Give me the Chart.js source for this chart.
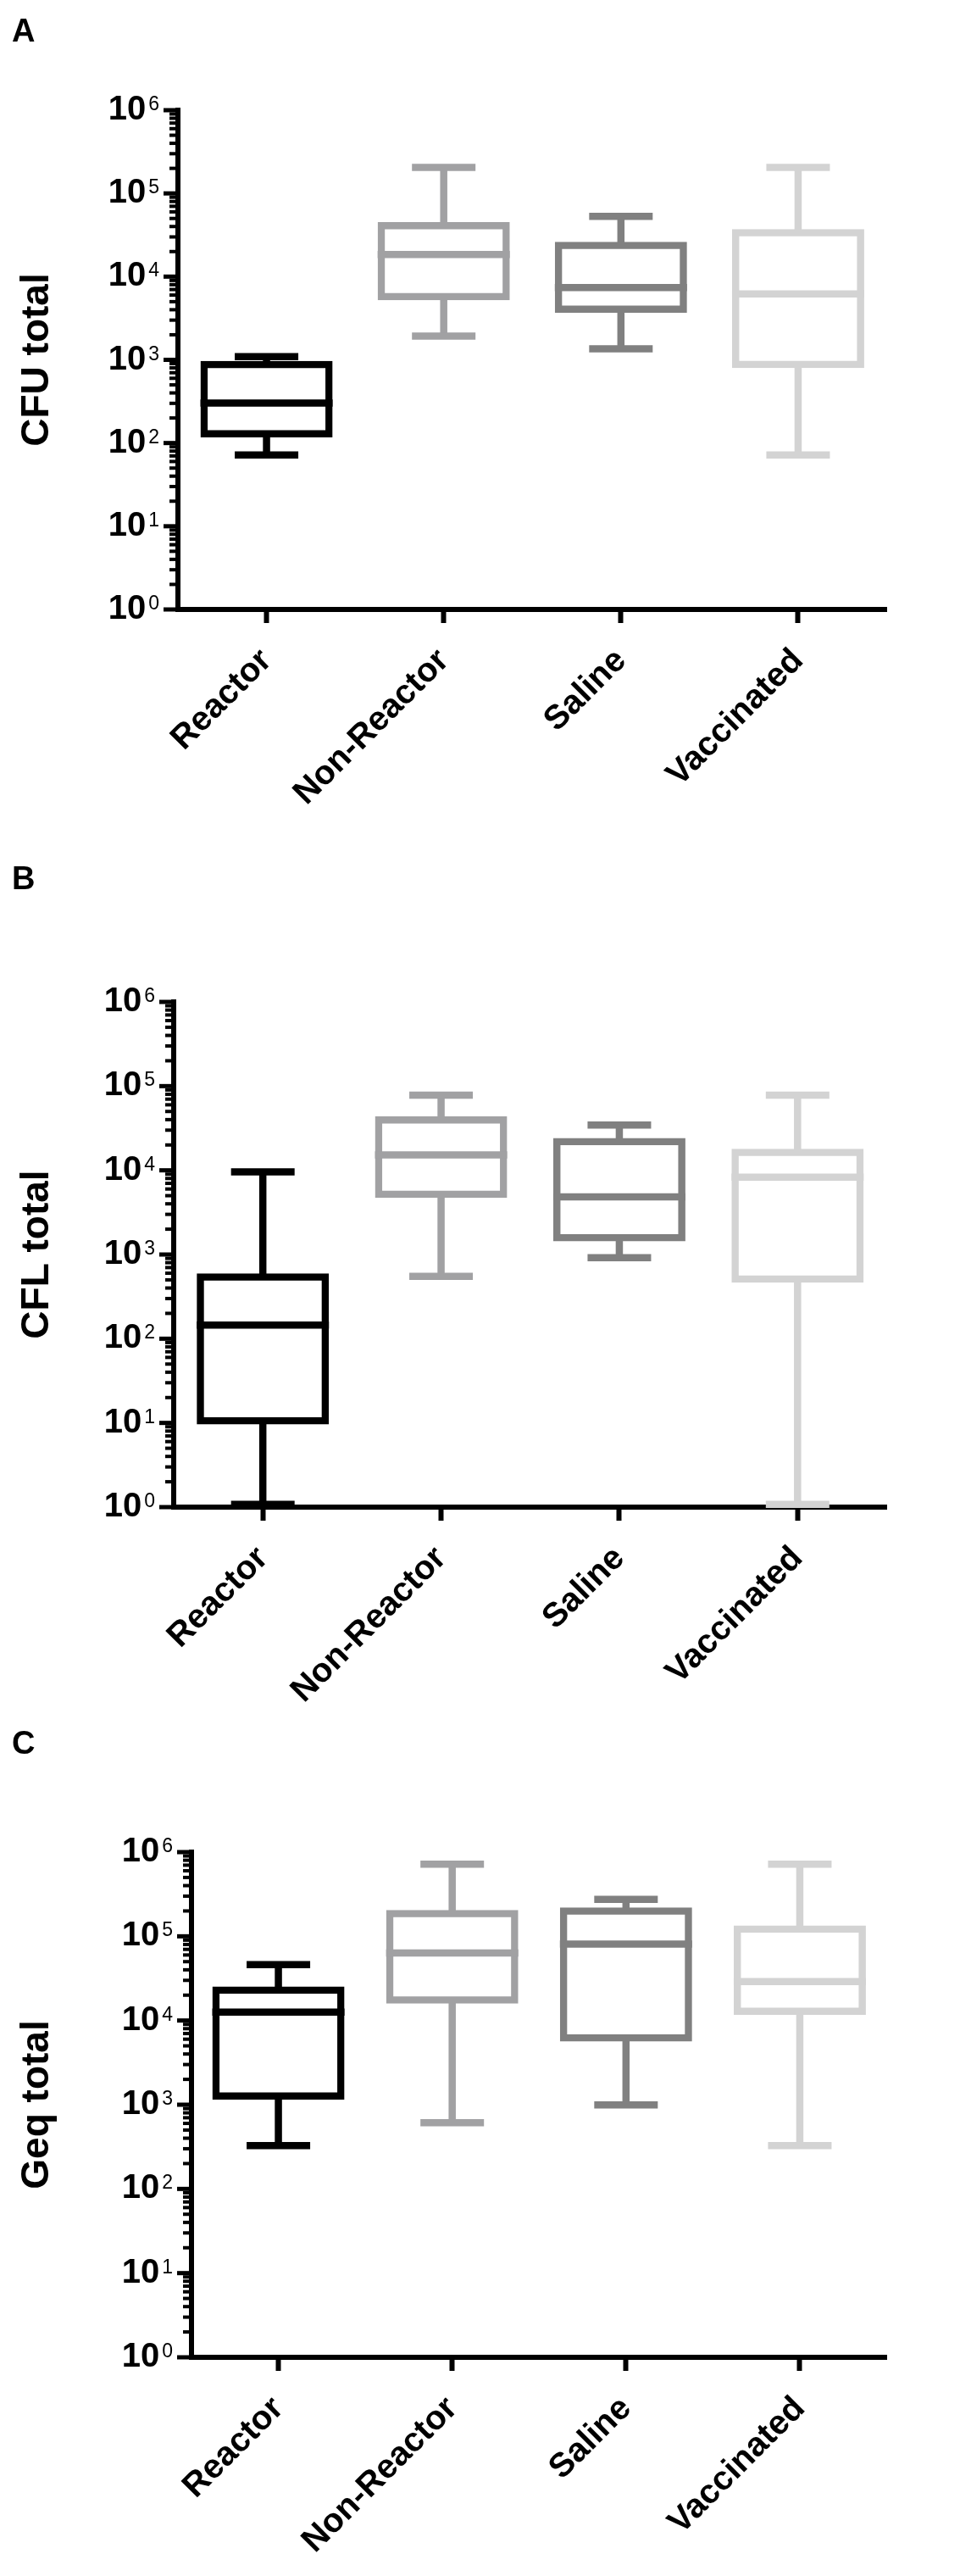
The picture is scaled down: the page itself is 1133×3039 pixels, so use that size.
<!DOCTYPE html>
<html>
<head>
<meta charset="utf-8">
<script src="https://cdn.jsdelivr.net/npm/chart.js@4.4.1/dist/chart.umd.min.js"></script>
<style>
    body { margin: 0; background: #fff; width: 1133px; height: 3039px; position: relative; overflow: hidden; }
    canvas { position: absolute; left: 0; }
    .letra { position: absolute; left: 14px; font-family: 'Liberation Sans', Arial, sans-serif; font-weight: bold; font-size: 38px; line-height: 1; color: #000; }
</style>
</head>
<body>
<canvas id="chartA" width="1133" height="1013" style="top:0px"></canvas>
<canvas id="chartB" width="1133" height="1013" style="top:1013px"></canvas>
<canvas id="chartC" width="1133" height="1013" style="top:2026px"></canvas>
<div class="letra" style="top:17px">A</div>
<div class="letra" style="top:1017px">B</div>
<div class="letra" style="top:2037px">C</div>
<script>
const FONTE = "'Liberation Sans', Arial, sans-serif";

// Grupos e cores
const groups = ['Reactor', 'Non-Reactor', 'Saline', 'Vaccinated'];
const groupColors = ['#000000', '#a1a1a3', '#808080', '#d3d3d3'];

// Eixo y (log)
const yTickExponents = [0, 1, 2, 3, 4, 5, 6];
const minorTickMultipliers = [2, 3, 4, 5, 6, 7, 8, 9];

// A - CFU total
const cfuMin = [72, 1930, 1360, 72];
const cfuQ1 = [129, 5750, 4070, 880];
const cfuMedian = [302, 18400, 7400, 6200];
const cfuQ3 = [880, 41000, 23700, 33700];
const cfuMax = [1090, 205000, 53000, 205000];

// B - CFL total
const cflMin = [1.08, 552, 916, 1.08];
const cflQ1 = [10.6, 5200, 1580, 510];
const cflMedian = [145, 15200, 4850, 8300];
const cflQ3 = [541, 39600, 22000, 16300];
const cflMax = [9600, 78000, 34500, 78000];

// C - Geq total
const geqMin = [327, 611, 995, 327];
const geqQ1 = [1270, 17500, 6200, 12900];
const geqMedian = [12600, 63500, 81000, 29000];
const geqQ3 = [23000, 186000, 200000, 122000];
const geqMax = [46000, 720000, 275000, 720000];

const LINE = 8.5;     // espessura das linhas do box
const BOX = 156;      // largura externa do box
const CAP = 75;       // largura das barrinhas dos whiskers
const AXIS_W = 6;

const panels = [
    { id: 'chartA', title: 'CFU total', min: cfuMin, q1: cfuQ1, median: cfuMedian, q3: cfuQ3, max: cfuMax,
      area: { left: 210, right: 1100, top: 130, bottom: 719 } },
    { id: 'chartB', title: 'CFL total', min: cflMin, q1: cflQ1, median: cflMedian, q3: cflQ3, max: cflMax,
      area: { left: 205, right: 1099, top: 169, bottom: 765 } },
    { id: 'chartC', title: 'Geq total', min: geqMin, q1: geqQ1, median: geqMedian, q3: geqQ3, max: geqMax,
      area: { left: 226, right: 1118, top: 159, bottom: 755 } }
];

// ticks menores/maiores e rótulos 10^n do eixo y
const logAxisDecor = {
    id: 'logAxisDecor',
    afterDraw(chart) {
        const y = chart.scales.y;
        const ctx = chart.ctx;
        const edge = y.right - AXIS_W / 2;
        ctx.save();
        ctx.strokeStyle = '#000';
        ctx.fillStyle = '#000';
        ctx.lineWidth = 4;
        yTickExponents.slice(0, -1).forEach(e => {
            minorTickMultipliers.forEach(m => {
                const py = y.getPixelForValue(m * Math.pow(10, e));
                ctx.beginPath();
                ctx.moveTo(edge - 7, py);
                ctx.lineTo(edge, py);
                ctx.stroke();
            });
        });
        ctx.lineWidth = 5;
        yTickExponents.forEach(e => {
            const py = y.getPixelForValue(Math.pow(10, e));
            ctx.beginPath();
            ctx.moveTo(edge - 14, py);
            ctx.lineTo(edge, py);
            ctx.stroke();

            ctx.font = `23px ${FONTE}`;
            const sup = String(e);
            const supX = edge - 14 - 5 - ctx.measureText(sup).width;
            ctx.textAlign = 'left';
            ctx.textBaseline = 'alphabetic';
            ctx.fillText(sup, supX, py);

            ctx.font = `bold 40px ${FONTE}`;
            ctx.textAlign = 'right';
            ctx.textBaseline = 'middle';
            ctx.fillText('10', supX - 3, py);
        });
        ctx.restore();
    }
};

function pointLine(label, data, radius) {
    return {
        type: 'line',
        label,
        data,
        showLine: false,
        pointStyle: 'line',
        pointRadius: radius,
        pointHoverRadius: radius,
        pointBorderWidth: LINE,
        pointHoverBorderWidth: LINE,
        pointBorderColor: groupColors,
        pointBackgroundColor: groupColors,
        clip: false,
        order: 1
    };
}

function makeChart(p) {
    const canvas = document.getElementById(p.id);
    const W = canvas.width, H = canvas.height;
    return new Chart(canvas, {
        type: 'bar',
        data: {
            labels: groups,
            datasets: [
                {
                    label: 'whisker',
                    data: p.min.map((v, i) => [v, p.max[i]]),
                    backgroundColor: groupColors,
                    borderWidth: 0,
                    barThickness: LINE,
                    inflateAmount: 0,
                    grouped: false,
                    order: 4
                },
                {
                    label: 'box',
                    data: p.q1.map((v, i) => [v, p.q3[i]]),
                    backgroundColor: '#ffffff',
                    borderColor: groupColors,
                    borderWidth: LINE,
                    borderSkipped: false,
                    barThickness: BOX - LINE,
                    inflateAmount: LINE / 2,
                    grouped: false,
                    order: 3
                },
                pointLine('median', p.median, BOX / 2),
                pointLine('max', p.max, CAP / 2),
                pointLine('min', p.min, CAP / 2)
            ]
        },
        options: {
            responsive: false,
            animation: false,
            events: [],
            layout: { padding: { left: 0, top: p.area.top, right: W - p.area.right, bottom: 0 } },
            plugins: { legend: { display: false }, tooltip: { enabled: false } },
            scales: {
                x: {
                    type: 'category',
                    offset: true,
                    grid: { display: true, drawOnChartArea: false, drawTicks: true, tickLength: 16, tickWidth: 6, tickColor: '#000', offset: false },
                    border: { display: true, width: AXIS_W, color: '#000' },
                    ticks: {
                        color: '#000',
                        font: { family: FONTE, size: 40, weight: 'bold', lineHeight: 1 },
                        minRotation: 45,
                        maxRotation: 45,
                        padding: 24,
                        autoSkip: false
                    },
                    afterFit: s => { s.height = H - p.area.bottom; s.paddingLeft = 0; s.paddingRight = 0; }
                },
                y: {
                    type: 'logarithmic',
                    min: 1,
                    max: 1e6,
                    grid: { display: false },
                    border: { display: true, width: AXIS_W, color: '#000' },
                    ticks: { display: false },
                    title: {
                        display: true,
                        text: p.title,
                        color: '#000',
                        font: { family: FONTE, size: 46, weight: 'bold', lineHeight: 1 },
                        padding: { top: 21, bottom: 0 }
                    },
                    afterFit: s => { s.width = p.area.left; s.paddingTop = 0; s.paddingBottom = 0; }
                }
            }
        },
        plugins: [logAxisDecor]
    });
}

panels.forEach(makeChart);
</script>
</body>
</html>
